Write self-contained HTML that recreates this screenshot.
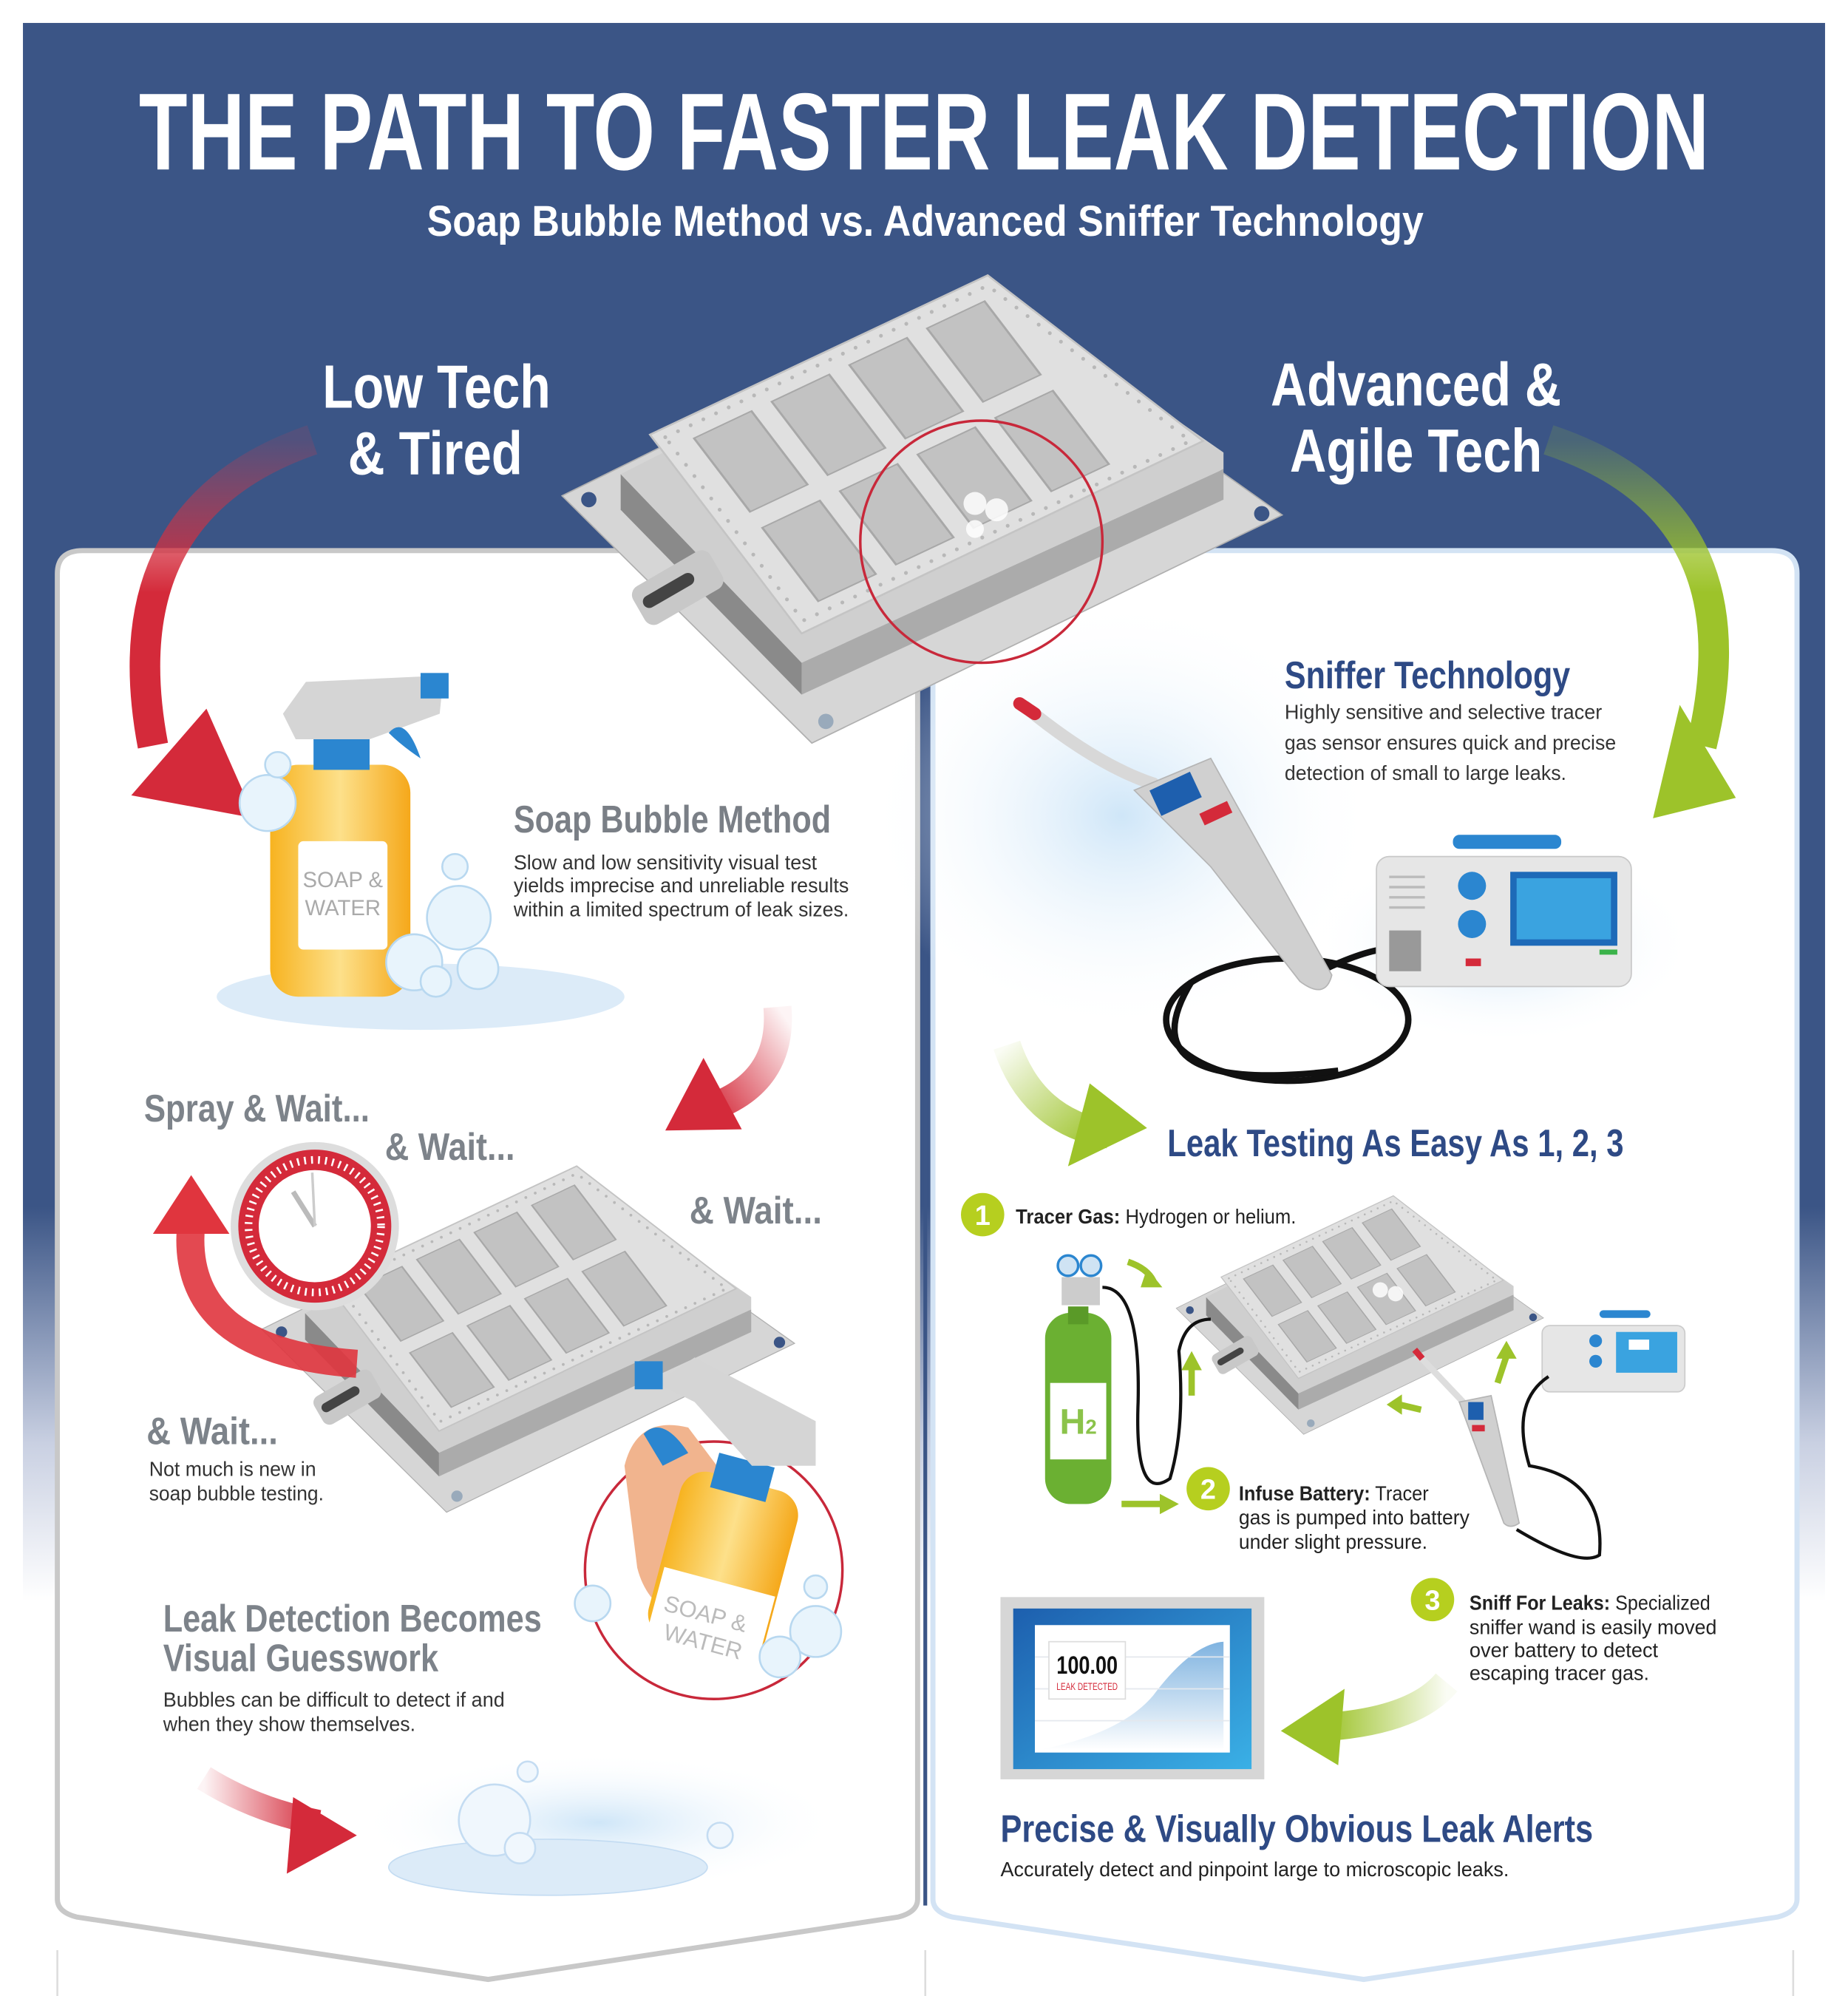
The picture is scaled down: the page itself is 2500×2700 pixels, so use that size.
<!DOCTYPE html>
<html><head><meta charset="utf-8">
<style>
html,body{margin:0;padding:0;background:#fff;}
svg{display:block;}
.t{font-family:"Liberation Sans Narrow","Liberation Sans",sans-serif;font-weight:bold;}
.b{font-family:"Liberation Sans Narrow","Liberation Sans",sans-serif;}
</style></head><body>
<svg width="2500" height="2700" viewBox="0 0 1450 1566" preserveAspectRatio="none" xmlns="http://www.w3.org/2000/svg">
<defs>
<linearGradient id="bg" x1="0" y1="0" x2="0" y2="1">
<stop offset="0" stop-color="#3b5586"/><stop offset="0.6" stop-color="#3b5586"/>
<stop offset="0.72" stop-color="#c9d0e2"/><stop offset="0.8" stop-color="#ffffff"/></linearGradient>
<linearGradient id="redA" x1="0" y1="0" x2="0" y2="1"><stop offset="0" stop-color="#d43a4a" stop-opacity="0.15"/><stop offset="0.5" stop-color="#d42a3a"/><stop offset="1" stop-color="#d42a3a"/></linearGradient>
<linearGradient id="greenA" x1="0" y1="0" x2="0" y2="1"><stop offset="0" stop-color="#9dc32a" stop-opacity="0.15"/><stop offset="0.5" stop-color="#9dc32a"/><stop offset="1" stop-color="#9dc32a"/></linearGradient>
<linearGradient id="redS" x1="1" y1="0" x2="0" y2="1"><stop offset="0" stop-color="#d42a3a" stop-opacity="0.05"/><stop offset="1" stop-color="#d42a3a"/></linearGradient>
<linearGradient id="greenS" x1="0" y1="0" x2="1" y2="1"><stop offset="0" stop-color="#9dc32a" stop-opacity="0.05"/><stop offset="1" stop-color="#9dc32a"/></linearGradient>
<linearGradient id="greenL" x1="1" y1="0" x2="0" y2="0"><stop offset="0" stop-color="#9dc32a" stop-opacity="0.05"/><stop offset="1" stop-color="#9dc32a"/></linearGradient>
<linearGradient id="redR" x1="0" y1="0" x2="1" y2="0"><stop offset="0" stop-color="#d42a3a" stop-opacity="0.05"/><stop offset="1" stop-color="#d42a3a"/></linearGradient>
<radialGradient id="glow"><stop offset="0" stop-color="#cfe6f8"/><stop offset="1" stop-color="#ffffff" stop-opacity="0"/></radialGradient>
<linearGradient id="yel" x1="0" y1="0" x2="1" y2="0"><stop offset="0" stop-color="#f7b320"/><stop offset="0.5" stop-color="#fde08a"/><stop offset="1" stop-color="#f5a81a"/></linearGradient>
<linearGradient id="scr" x1="0" y1="0" x2="1" y2="1"><stop offset="0" stop-color="#1d5fae"/><stop offset="1" stop-color="#3ab0e6"/></linearGradient>
<linearGradient id="chart" x1="0" y1="0" x2="0" y2="1"><stop offset="0" stop-color="#7fb3e0"/><stop offset="1" stop-color="#ffffff"/></linearGradient>
<g id="bat">
<polygon points="441,389 520,350 775,240 1006,404 637,583" fill="#d6d6d6" stroke="#b0b0b0" stroke-width="1"/>
<polygon points="487,372 629,520 629,545 487,400" fill="#8a8a8a"/>
<polygon points="629,520 960,368 960,392 629,545" fill="#ababab"/>
<polygon points="487,372 775,226 960,355 960,368 629,520" fill="#cfcfcf"/>
<polygon points="510,341 775,216 944,346 629,497" fill="#e0e0e0" stroke="#c4c4c4" stroke-width="1.5"/>
<polygon points="522,343 775,224 934,346 630,487" fill="none" stroke="#b8b8b8" stroke-width="3" stroke-dasharray="0 11" stroke-linecap="round"/>
<g transform="matrix(2.65,-1.25,1.19,1.56,510,341)" fill="#c2c2c2" stroke="#a8a8a8" stroke-width="0.6">
<rect x="9" y="9" width="17" height="37"/><rect x="32" y="9" width="17" height="37"/><rect x="55" y="9" width="17" height="37"/><rect x="78" y="9" width="17" height="37"/>
<rect x="9" y="54" width="17" height="37"/><rect x="32" y="54" width="17" height="37"/><rect x="55" y="54" width="17" height="37"/><rect x="78" y="54" width="17" height="37"/>
</g>
<circle cx="462" cy="392" r="6" fill="#3b5586"/><circle cx="990" cy="403" r="6" fill="#3b5586"/><circle cx="648" cy="566" r="6" fill="#9ab"/>
<rect x="497" y="445" width="70" height="34" rx="8" fill="#c8c8c8" transform="rotate(-30 530 462)"/>
<rect x="502" y="458" width="45" height="10" rx="5" fill="#444" transform="rotate(-30 525 463)"/>
</g>
</defs>
<rect width="1450" height="1566" fill="#fff"/>
<rect x="18" y="18" width="1414" height="1548" fill="url(#bg)"/>
<!-- panels -->
<path d="M45,1490 L45,450 Q45,432 65,432 L700,432 Q720,432 720,450 L720,1490 Q720,1500 705,1504 L383,1553 L60,1504 Q45,1500 45,1490 Z" fill="#fff" stroke="#c8c8c8" stroke-width="4"/>
<path d="M732,1490 L732,450 Q732,432 752,432 L1390,432 Q1410,432 1410,450 L1410,1490 Q1410,1500 1395,1504 L1070,1553 L747,1504 Q732,1500 732,1490 Z" fill="#fff" stroke="#d3e3f4" stroke-width="4"/>
<line x1="726" y1="520" x2="726" y2="1495" stroke="#3b5586" stroke-width="3"/>
<g stroke="#ddd" stroke-width="1.5"><line x1="45" y1="1530" x2="45" y2="1566"/><line x1="726" y1="1530" x2="726" y2="1566"/><line x1="1407" y1="1530" x2="1407" y2="1566"/></g>
<!-- titles -->
<text class="t" x="725" y="133" text-anchor="middle" font-size="86" fill="#fff" textLength="1232" lengthAdjust="spacingAndGlyphs">THE PATH TO FASTER LEAK DETECTION</text>
<text class="t" x="726" y="185" text-anchor="middle" font-size="34" fill="#fff" textLength="782" lengthAdjust="spacingAndGlyphs">Soap Bubble Method vs. Advanced Sniffer Technology</text>
<text class="t" x="253" y="320" font-size="48" fill="#fff" textLength="179" lengthAdjust="spacingAndGlyphs">Low Tech</text>
<text class="t" x="273" y="372" font-size="48" fill="#fff" textLength="137" lengthAdjust="spacingAndGlyphs">&amp; Tired</text>
<text class="t" x="997" y="318" font-size="48" fill="#fff" textLength="228" lengthAdjust="spacingAndGlyphs">Advanced &amp;</text>
<text class="t" x="1012" y="370" font-size="48" fill="#fff" textLength="198" lengthAdjust="spacingAndGlyphs">Agile Tech</text>
<!-- big arrows -->
<path d="M245,345 Q85,400 120,585" fill="none" stroke="url(#redA)" stroke-width="24"/>
<polygon points="103,624 200,642 162,556" fill="#d42a3a"/>
<path d="M1215,345 Q1380,400 1335,585" fill="none" stroke="url(#greenA)" stroke-width="24"/>
<polygon points="1297,642 1362,626 1318,553" fill="#9dc32a"/>
<!-- glow -->
<ellipse cx="880" cy="640" rx="200" ry="170" fill="url(#glow)"/>
<ellipse cx="1180" cy="740" rx="150" ry="80" fill="url(#glow)"/>
<!-- top battery -->
<use href="#bat"/>
<circle cx="770" cy="425" r="95" fill="none" stroke="#c8283a" stroke-width="2"/>
<g fill="#fff" opacity="0.85"><circle cx="765" cy="395" r="9"/><circle cx="782" cy="400" r="9"/><circle cx="765" cy="415" r="7"/></g>
<!-- spray bottle -->
<ellipse cx="330" cy="782" rx="160" ry="26" fill="#dcebf8"/>
<rect x="212" y="600" width="110" height="182" rx="22" fill="url(#yel)"/>
<rect x="234" y="660" width="70" height="85" rx="4" fill="#fff"/>
<text class="b" x="269" y="696" text-anchor="middle" font-size="17" fill="#aaa">SOAP &amp;</text>
<text class="b" x="269" y="718" text-anchor="middle" font-size="17" fill="#aaa">WATER</text>
<rect x="246" y="580" width="44" height="24" fill="#2b86d0"/>
<polygon points="222,560 240,535 348,530 345,560 290,580 232,580" fill="#d5d5d5"/>
<rect x="330" y="528" width="22" height="20" fill="#2b86d0"/>
<path d="M305,575 Q318,560 330,595 Q315,585 305,575Z" fill="#2b86d0"/>
<g fill="#e8f4fc" stroke="#b8d8f0" stroke-width="1.5"><circle cx="210" cy="630" r="22"/><circle cx="360" cy="720" r="25"/><circle cx="325" cy="755" r="22"/><circle cx="375" cy="760" r="16"/><circle cx="357" cy="680" r="10"/><circle cx="218" cy="600" r="10"/><circle cx="342" cy="770" r="12"/></g>
<text class="t" x="403" y="653" font-size="30" fill="#7a7f86" textLength="249" lengthAdjust="spacingAndGlyphs">Soap Bubble Method</text>
<g class="b" font-size="16" fill="#333">
<text x="403" y="682" textLength="238" lengthAdjust="spacingAndGlyphs">Slow and low sensitivity visual test</text>
<text x="403" y="700" textLength="263" lengthAdjust="spacingAndGlyphs">yields imprecise and unreliable results</text>
<text x="403" y="719" textLength="263" lengthAdjust="spacingAndGlyphs">within a limited spectrum of leak sizes.</text>
</g>
<!-- red small arrow -->
<path d="M610,790 Q615,850 555,870" fill="none" stroke="url(#redS)" stroke-width="22"/>
<polygon points="522,887 582,886 552,830" fill="#d42a3a"/>
<!-- wait texts -->
<g class="t" font-size="30" fill="#7d838a">
<text x="113" y="880" textLength="177" lengthAdjust="spacingAndGlyphs">Spray &amp; Wait...</text>
<text x="302" y="910" textLength="102" lengthAdjust="spacingAndGlyphs">&amp; Wait...</text>
<text x="541" y="960" textLength="104" lengthAdjust="spacingAndGlyphs">&amp; Wait...</text>
<text x="115" y="1133" textLength="103" lengthAdjust="spacingAndGlyphs">&amp; Wait...</text>
</g>
<g class="b" font-size="16" fill="#333">
<text x="117" y="1158" textLength="131" lengthAdjust="spacingAndGlyphs">Not much is new in</text>
<text x="117" y="1177" textLength="137" lengthAdjust="spacingAndGlyphs">soap bubble testing.</text>
</g>
<!-- middle battery -->
<use href="#bat" transform="translate(-121,755) scale(0.74)"/>
<!-- clock arrow -->
<path d="M150,960 Q140,1060 280,1070" fill="none" stroke="#e0353e" stroke-width="22" opacity="0.9"/>
<polygon points="120,968 180,968 150,922" fill="#e0353e"/>
<circle cx="247" cy="962" r="66" fill="#ddd"/>
<circle cx="247" cy="962" r="60" fill="#d42a3a"/>
<circle cx="247" cy="962" r="52" fill="none" stroke="#fff" stroke-width="6" stroke-dasharray="1.5 4"/>
<circle cx="247" cy="962" r="44" fill="#fff"/>
<line x1="247" y1="962" x2="230" y2="935" stroke="#bbb" stroke-width="4"/>
<line x1="247" y1="962" x2="245" y2="920" stroke="#ccc" stroke-width="2"/>
<!-- hand circle -->
<circle cx="560" cy="1232" r="101" fill="#fff" stroke="#c8283a" stroke-width="2"/>
<path d="M490,1150 Q500,1110 540,1120 L600,1200 Q605,1260 560,1280 Q510,1270 500,1230 Z" fill="#f1b48e"/>
<rect x="520" y="1160" width="95" height="135" rx="20" fill="url(#yel)" transform="rotate(15 567 1227)"/>
<rect x="512" y="1240" width="90" height="60" fill="#fff" transform="rotate(15 557 1270)"/>
<text class="b" x="552" y="1272" text-anchor="middle" font-size="18" fill="#bbb" transform="rotate(15 552 1272)">SOAP &amp;</text>
<text class="b" x="550" y="1294" text-anchor="middle" font-size="18" fill="#bbb" transform="rotate(15 550 1294)">WATER</text>
<rect x="560" y="1145" width="45" height="28" fill="#2b86d0" transform="rotate(15 582 1159)"/>
<polygon points="515,1085 545,1065 640,1115 640,1150 590,1150 545,1100" fill="#d5d5d5"/>
<rect x="498" y="1068" width="22" height="22" fill="#2b86d0"/>
<path d="M505,1125 Q520,1110 540,1140 L520,1150Z" fill="#2b86d0"/>
<g fill="#e8f4fc" stroke="#b8d8f0" stroke-width="1.5"><circle cx="465" cy="1258" r="14"/><circle cx="640" cy="1280" r="20"/><circle cx="612" cy="1300" r="16"/><circle cx="640" cy="1245" r="9"/></g>
<text class="t" x="128" y="1280" font-size="30" fill="#7d838a" textLength="297" lengthAdjust="spacingAndGlyphs">Leak Detection Becomes</text>
<text class="t" x="128" y="1311" font-size="30" fill="#7d838a" textLength="216" lengthAdjust="spacingAndGlyphs">Visual Guesswork</text>
<g class="b" font-size="16" fill="#333">
<text x="128" y="1339" textLength="268" lengthAdjust="spacingAndGlyphs">Bubbles can be difficult to detect if and</text>
<text x="128" y="1358" textLength="198" lengthAdjust="spacingAndGlyphs">when they show themselves.</text>
</g>
<!-- bottom puddle -->
<ellipse cx="470" cy="1430" rx="190" ry="55" fill="url(#glow)"/>
<ellipse cx="430" cy="1465" rx="125" ry="22" fill="#dcebf8" stroke="#c4dcf2"/>
<g fill="#f0f7fd" stroke="#c4dcf2" stroke-width="1.5"><circle cx="388" cy="1428" r="28"/><circle cx="408" cy="1450" r="12"/><circle cx="565" cy="1440" r="10"/><circle cx="414" cy="1390" r="8"/></g>
<path d="M160,1395 Q200,1420 250,1430" fill="none" stroke="url(#redR)" stroke-width="20"/>
<polygon points="225,1470 280,1440 230,1410" fill="#d42a3a"/>
<!-- right side: sniffer -->
<text class="t" x="1008" y="540" font-size="30" fill="#2e4a85" textLength="224" lengthAdjust="spacingAndGlyphs">Sniffer Technology</text>
<g class="b" font-size="16" fill="#333">
<text x="1008" y="564" textLength="249" lengthAdjust="spacingAndGlyphs">Highly sensitive and selective tracer</text>
<text x="1008" y="588" textLength="260" lengthAdjust="spacingAndGlyphs">gas sensor ensures quick and precise</text>
<text x="1008" y="612" textLength="221" lengthAdjust="spacingAndGlyphs">detection of small to large leaks.</text>
</g>
<ellipse cx="1010" cy="800" rx="95" ry="48" fill="none" stroke="#111" stroke-width="5"/>
<path d="M935,770 Q880,860 1050,840 M1030,765 Q1080,740 1100,745" fill="none" stroke="#111" stroke-width="5"/>
<path d="M805,555 Q860,600 905,615" fill="none" stroke="#d8d8d8" stroke-width="10" stroke-linecap="round"/>
<line x1="800" y1="552" x2="812" y2="560" stroke="#d42a3a" stroke-width="10" stroke-linecap="round"/>
<path d="M890,620 L950,595 L975,640 L1045,765 Q1040,785 1020,770 L950,680 Z" fill="#d0d0d0" stroke="#b5b5b5"/>
<rect x="905" y="612" width="35" height="22" fill="#1e5fae" transform="rotate(-25 922 623)"/>
<rect x="942" y="633" width="24" height="10" fill="#d42a3a" transform="rotate(-25 954 638)"/>
<rect x="1080" y="672" width="200" height="102" rx="10" fill="#e6e6e6" stroke="#c8c8c8"/>
<rect x="1140" y="655" width="85" height="11" rx="5" fill="#2b86d0"/>
<rect x="1185" y="684" width="84" height="58" fill="#1e6ab8"/><rect x="1190" y="689" width="74" height="48" fill="#3aa3e0"/>
<circle cx="1155" cy="695" r="11" fill="#2b86d0"/><circle cx="1155" cy="725" r="11" fill="#2b86d0"/>
<rect x="1150" y="752" width="12" height="6" fill="#d42a3a"/><rect x="1255" y="745" width="14" height="4" fill="#3bb34a"/>
<rect x="1090" y="730" width="25" height="32" fill="#999"/>
<g stroke="#bbb" stroke-width="2"><line x1="1090" y1="688" x2="1118" y2="688"/><line x1="1090" y1="696" x2="1118" y2="696"/><line x1="1090" y1="704" x2="1118" y2="704"/><line x1="1090" y1="712" x2="1118" y2="712"/></g>
<!-- green arrow to 123 -->
<path d="M790,820 Q810,880 870,890" fill="none" stroke="url(#greenS)" stroke-width="22"/>
<polygon points="838,915 900,885 855,850" fill="#9dc32a"/>
<text class="t" x="916" y="907" font-size="30" fill="#2e4a85" textLength="358" lengthAdjust="spacingAndGlyphs">Leak Testing As Easy As 1, 2, 3</text>
<!-- step 1 -->
<circle cx="771" cy="953" r="17" fill="#b6cf1f"/><text class="t" x="771" y="961" text-anchor="middle" font-size="22" fill="#fff">1</text>
<text class="b" x="797" y="960" font-size="16" fill="#222" textLength="220" lengthAdjust="spacingAndGlyphs"><tspan font-weight="bold">Tracer Gas:</tspan> Hydrogen or helium.</text>
<!-- right battery -->
<use href="#bat" transform="translate(698,828) scale(0.51)"/>
<g fill="#fff" opacity="0.85"><circle cx="1083" cy="1012" r="6"/><circle cx="1095" cy="1015" r="6"/></g>
<!-- tank -->
<rect x="820" y="1030" width="52" height="150" rx="20" fill="#6bb032"/>
<rect x="838" y="1025" width="16" height="14" fill="#5a9a28"/>
<rect x="824" y="1085" width="44" height="60" fill="#fff"/>
<text class="t" x="846" y="1125" text-anchor="middle" font-size="28" fill="#8bc34a">H<tspan font-size="16">2</tspan></text>
<circle cx="838" cy="993" r="8" fill="#cfe3f3" stroke="#2b86d0" stroke-width="2"/><circle cx="856" cy="993" r="8" fill="#cfe3f3" stroke="#2b86d0" stroke-width="2"/>
<rect x="833" y="1002" width="30" height="22" fill="#ccc"/>
<path d="M865,1010 Q895,1010 893,1100 Q890,1180 918,1160 Q930,1120 925,1060 Q930,1035 950,1035" fill="none" stroke="#111" stroke-width="2.5"/>
<!-- small green arrows -->
<g fill="#9dc32a">
<polygon points="912,1010 900,995 895,1010"/><path d="M885,990 Q900,995 905,1005" stroke="#9dc32a" stroke-width="5" fill="none"/>
<polygon points="925,1180 910,1172 910,1188"/><path d="M880,1180 L912,1180" stroke="#9dc32a" stroke-width="5"/>
<polygon points="935,1060 927,1075 943,1075"/><path d="M935,1072 L935,1095" stroke="#9dc32a" stroke-width="5"/>
<polygon points="1088,1102 1100,1094 1100,1110"/><path d="M1098,1102 L1115,1106" stroke="#9dc32a" stroke-width="5"/>
<polygon points="1182,1052 1174,1066 1190,1066"/><path d="M1182,1064 L1175,1085" stroke="#9dc32a" stroke-width="5"/>
</g>
<!-- small sniffer -->
<rect x="1210" y="1040" width="112" height="52" rx="6" fill="#e6e6e6" stroke="#ccc"/>
<rect x="1255" y="1028" width="40" height="6" rx="3" fill="#2b86d0"/>
<rect x="1268" y="1045" width="48" height="32" fill="#3aa3e0"/>
<rect x="1278" y="1051" width="16" height="8" fill="#fff"/>
<circle cx="1252" cy="1052" r="5" fill="#2b86d0"/><circle cx="1252" cy="1068" r="5" fill="#2b86d0"/>
<path d="M1215,1080 Q1185,1100 1200,1150 Q1260,1160 1255,1220 Q1240,1230 1190,1200" fill="none" stroke="#111" stroke-width="2.5"/>
<path d="M1112,1062 L1148,1100" stroke="#ddd" stroke-width="5" stroke-linecap="round"/>
<line x1="1110" y1="1059" x2="1116" y2="1066" stroke="#d42a3a" stroke-width="5"/>
<path d="M1145,1100 L1170,1095 L1192,1195 Q1185,1200 1180,1195 Z" fill="#d0d0d0" stroke="#b5b5b5"/>
<rect x="1152" y="1100" width="12" height="14" fill="#1e5fae"/><rect x="1155" y="1118" width="10" height="5" fill="#d42a3a"/>
<!-- step 2 -->
<circle cx="948" cy="1168" r="17" fill="#b6cf1f"/><text class="t" x="948" y="1176" text-anchor="middle" font-size="22" fill="#fff">2</text>
<g class="b" font-size="16" fill="#222">
<text x="972" y="1177" textLength="149" lengthAdjust="spacingAndGlyphs"><tspan font-weight="bold">Infuse Battery:</tspan> Tracer</text>
<text x="972" y="1196" textLength="181" lengthAdjust="spacingAndGlyphs">gas is pumped into battery</text>
<text x="972" y="1215" textLength="148" lengthAdjust="spacingAndGlyphs">under slight pressure.</text>
</g>
<!-- step 3 -->
<circle cx="1124" cy="1255" r="17" fill="#b6cf1f"/><text class="t" x="1124" y="1263" text-anchor="middle" font-size="22" fill="#fff">3</text>
<g class="b" font-size="16" fill="#222">
<text x="1153" y="1263" textLength="189" lengthAdjust="spacingAndGlyphs"><tspan font-weight="bold">Sniff For Leaks:</tspan> Specialized</text>
<text x="1153" y="1282" textLength="194" lengthAdjust="spacingAndGlyphs">sniffer wand is easily moved</text>
<text x="1153" y="1300" textLength="148" lengthAdjust="spacingAndGlyphs">over battery to detect</text>
<text x="1153" y="1318" textLength="141" lengthAdjust="spacingAndGlyphs">escaping tracer gas.</text>
</g>
<!-- green arrow left -->
<path d="M1135,1320 Q1110,1350 1040,1355" fill="none" stroke="url(#greenL)" stroke-width="22"/>
<polygon points="1005,1358 1055,1325 1050,1385" fill="#9dc32a"/>
<!-- monitor -->
<rect x="785" y="1253" width="207" height="143" fill="#d6d6d6"/>
<rect x="795" y="1262" width="187" height="126" fill="url(#scr)"/>
<rect x="812" y="1275" width="153" height="100" fill="#fff"/>
<path d="M815,1373 Q880,1360 905,1330 Q935,1290 960,1288 L960,1373 Z" fill="url(#chart)"/>
<g stroke="#e4e8ee" stroke-width="1"><line x1="812" y1="1300" x2="965" y2="1300"/><line x1="812" y1="1325" x2="965" y2="1325"/><line x1="812" y1="1350" x2="965" y2="1350"/></g>
<rect x="823" y="1288" width="60" height="45" fill="#fff" stroke="#ddd"/>
<text class="t" x="853" y="1313" text-anchor="middle" font-size="20" fill="#111" textLength="48" lengthAdjust="spacingAndGlyphs">100.00</text>
<text class="b" x="853" y="1326" text-anchor="middle" font-size="8" fill="#d42a3a" textLength="48" lengthAdjust="spacingAndGlyphs">LEAK DETECTED</text>
<text class="t" x="785" y="1445" font-size="30" fill="#2e4a85" textLength="465" lengthAdjust="spacingAndGlyphs">Precise &amp; Visually Obvious Leak Alerts</text>
<text class="b" x="785" y="1472" font-size="16" fill="#222" textLength="399" lengthAdjust="spacingAndGlyphs">Accurately detect and pinpoint large to microscopic leaks.</text>
</svg>
</body></html>
